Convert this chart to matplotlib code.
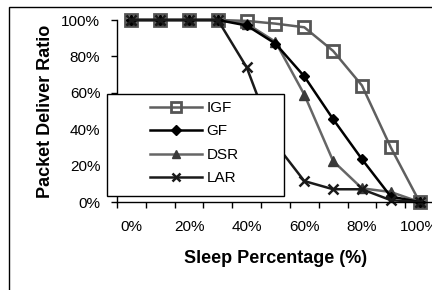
#!/usr/bin/env python3

import numpy as np
import matplotlib
matplotlib.use('Agg')
import matplotlib.pyplot as plt
from matplotlib.patches import Rectangle

plt.rcParams['font.family'] = ['Liberation Sans', 'DejaVu Sans']

# sleep percentage categories
sleep = ['0%', '10%', '20%', '30%', '40%', '50%', '60%', '70%', '80%', '90%', '100%']
# packet delivery ratio (%)
igf = [100, 100, 100, 100, 99.5, 98, 96, 83, 64, 30, 0]
gf = [100, 100, 100, 100, 97, 87, 69, 45.5, 23.5, 3, 0]
dsr = [100, 100, 100, 100, 98, 88, 59, 22.5, 7.5, 5.5, 0]
lar = [100, 100, 100, 100, 74, 32, 11.5, 7, 7, 1, 0]

W, H = 432, 290
fig = plt.figure(figsize=(W / 100, H / 100), dpi=100)
ax = fig.add_axes([117 / W, 1 - 202 / H, 317 / W, 182 / H])

x = np.arange(len(sleep))
ax.plot(x, igf, '-', color='#5f5f5f', lw=1.8, marker='s', ms=9, mfc='none',
        mec='#555555', mew=2, label='IGF', clip_on=False, zorder=2)
ax.plot(x, dsr, '-', color='#666666', lw=1.8, marker='^', ms=7, mfc='#3a3a3a',
        mec='#3a3a3a', label='DSR', clip_on=False, zorder=2)
ax.plot(x, gf, '-', color='black', lw=1.8, marker='D', ms=5.5, mfc='black',
        mec='black', label='GF', clip_on=False, zorder=2)
ax.plot(x, lar, '-', color='#1a1a1a', lw=1.8, marker='x', ms=7, mew=1.8,
        mec='#1a1a1a', label='LAR', clip_on=False, zorder=2)

ax.set_xlim(-0.5, len(sleep) - 0.5)
ax.set_ylim(0, 100)
ax.set_yticks(np.arange(0, 101, 20))
ax.set_yticklabels([f'{v}%' for v in range(0, 101, 20)])
ax.set_xticks(x[::2])
ax.set_xticklabels(sleep[::2])
ax.set_xticks(np.arange(-0.5, len(sleep)), minor=True)
ax.tick_params(axis='x', which='major', length=0, pad=13, labelsize=11)
ax.tick_params(axis='x', which='minor', length=4, width=1, direction='out')
ax.tick_params(axis='y', length=4, width=1, direction='out', pad=8, labelsize=11)
for s in ['top', 'right']:
    ax.spines[s].set_visible(False)
ax.spines['left'].set_linewidth(1)
ax.spines['bottom'].set_linewidth(1)

ax.set_xlabel('Sleep Percentage (%)', fontsize=13, fontweight='bold')
ax.xaxis.set_label_coords(0.5, -0.265)
ax.set_ylabel('Packet Deliver Ratio', fontsize=13, fontweight='bold')
ax.yaxis.set_label_coords(-0.2, 0.5)

# legend box
box = Rectangle((107 / W, 1 - 196 / H), 177 / W, 102 / H, transform=fig.transFigure,
                facecolor='white', edgecolor='black', lw=1, zorder=3, clip_on=False)
ax.add_patch(box)
handles, labels = ax.get_legend_handles_labels()
order = [0, 2, 1, 3]
leg = ax.legend([handles[i] for i in order], [labels[i] for i in order],
                loc='upper left', bbox_to_anchor=(150 / W, 1 - 101 / H),
                bbox_transform=fig.transFigure, frameon=False, borderpad=0,
                borderaxespad=0, handlelength=3.4, handletextpad=0.3,
                labelspacing=0.62, fontsize=11, markerscale=0.85)
leg.set_zorder(4)

# outer chart border
fig.add_artist(Rectangle((9 / W, -0.1), 1.2, 1 - 7 / H + 0.1, transform=fig.transFigure,
                         fill=False, edgecolor='black', lw=1))

fig.savefig('out.png', dpi=100)
